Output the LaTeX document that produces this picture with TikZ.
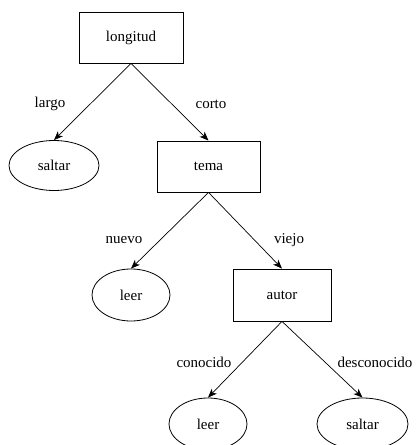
\documentclass[tikz,border=0pt]{standalone}
\usepackage{fontspec}
\setmainfont{Liberation Serif}
\usetikzlibrary{arrows.meta,shapes.geometric}
\begin{document}
\begin{tikzpicture}[x=1pt,y=-1pt,
  every node/.style={font=\fontsize{15}{18}\selectfont},
  boxn/.style={draw,line width=0.8pt,rectangle,inner sep=0pt},
  elln/.style={draw,line width=0.8pt,ellipse,inner sep=0pt},
  conn/.style={draw,line width=0.7pt,-{Stealth[length=9pt,width=7pt,inset=2.5pt]}},
  lbl/.style={inner sep=0pt}]
\useasboundingbox (0,0) rectangle (416,445);
\node[boxn,minimum width=104pt,minimum height=51pt] (long) at (131,37.5) {longitud};
\node[elln,minimum width=90pt,minimum height=50pt] (s1) at (54,165.5) {saltar};
\node[boxn,minimum width=103pt,minimum height=51pt] (tema) at (208.5,166.5) {tema};
\node[elln,minimum width=78pt,minimum height=52pt] (l1) at (131,295) {leer};
\node[boxn,minimum width=98pt,minimum height=52pt] (autor) at (282,295) {autor};
\node[elln,minimum width=78pt,minimum height=52pt] (l2) at (208,424) {leer};
\node[elln,minimum width=91pt,minimum height=52pt] (s2) at (362.5,424) {saltar};
\node[lbl] (a) at (50,104) {largo};
\node[lbl] (b) at (211,104) {corto};
\node[lbl] (c) at (124,240) {nuevo};
\node[lbl] (d) at (289,240) {viejo};
\node[lbl] (e) at (204,362) {conocido};
\node[lbl] (f) at (375,362) {desconocido};
\draw[conn] (long.south) -- (s1.north);
\draw[conn] (long.south) -- (tema.north);
\draw[conn] (tema.south) -- (l1.north);
\draw[conn] (tema.south) -- (autor.north);
\draw[conn] (autor.south) -- (l2.north);
\draw[conn] (autor.south) -- (s2.north);
\end{tikzpicture}
\end{document}
